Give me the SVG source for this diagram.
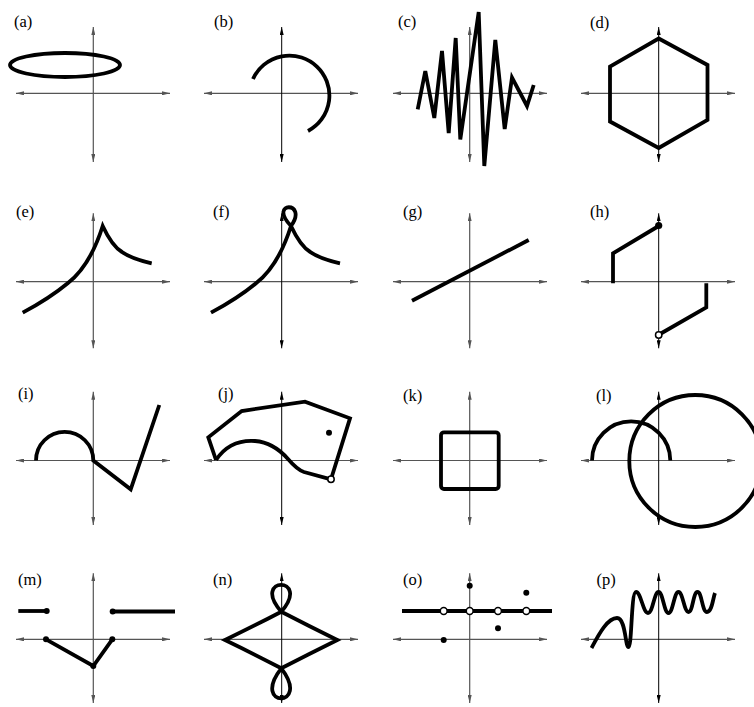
<svg xmlns="http://www.w3.org/2000/svg" width="754" height="707" viewBox="0 0 754 707">
<defs>
<marker id="ag" viewBox="0 0 8 4" refX="8" refY="2" markerWidth="8" markerHeight="4" markerUnits="userSpaceOnUse" orient="auto-start-reverse"><path d="M0,0 L8,2 L0,4 z" fill="#555"/></marker>
<marker id="ak" viewBox="0 0 8 4" refX="8" refY="2" markerWidth="8" markerHeight="4" markerUnits="userSpaceOnUse" orient="auto-start-reverse"><path d="M0,0 L8,2 L0,4 z" fill="#000"/></marker>
</defs>
<style>
.ax{stroke:#555;stroke-width:1.2;fill:none;marker-start:url(#ag);marker-end:url(#ag)}
.axk{stroke:#000;stroke-width:1;fill:none;marker-start:url(#ak);marker-end:url(#ak)}
.c{stroke:#000;stroke-width:3.8;fill:none;stroke-linejoin:miter}
.lbl{font-family:'Liberation Serif','Times New Roman',serif;font-size:16.5px;fill:#000}
.dot{fill:#000}
.od{fill:#fff;stroke:#000;stroke-width:1.5}
</style>
<rect width="754" height="707" fill="#fff"/>

<g id="panel-a">
<text class="lbl" font-family="Liberation Serif, serif" x="14" y="26.5">(a)</text>
<line class="ax" x1="16" y1="93.3" x2="170" y2="93.3"/>
<line class="ax" x1="93.3" y1="27" x2="93.3" y2="162"/>
<ellipse class="c" cx="65" cy="65" rx="55" ry="12"/>
</g>

<g id="panel-b">
<text class="lbl" font-family="Liberation Serif, serif" x="214" y="26.5">(b)</text>
<line class="ax" x1="204" y1="93.3" x2="358" y2="93.3"/>
<line class="axk" x1="281.7" y1="27" x2="281.7" y2="162"/>
<path class="c" d="M253,79 A40,40 0 1 1 308,131"/>
</g>

<g id="panel-c">
<text class="lbl" font-family="Liberation Serif, serif" x="398" y="27">(c)</text>
<line class="ax" x1="393" y1="93.3" x2="547" y2="93.3"/>
<line class="ax" x1="469.7" y1="27" x2="469.7" y2="162"/>
<path class="c" d="M417.7,109.3 L425.3,71 L434.3,118 L442,51 L448.7,133 L455.7,38 L460.3,139.5 L478.7,12 L484.3,166 L495.3,40 L504.7,129 L512,77.5 L527,106 L533.7,85"/>
</g>

<g id="panel-d">
<text class="lbl" font-family="Liberation Serif, serif" x="590" y="27.5">(d)</text>
<line class="ax" x1="581" y1="93.3" x2="735" y2="93.3"/>
<line class="axk" x1="658.7" y1="27" x2="658.7" y2="162"/>
<path class="c" d="M658.7,38.5 L707.5,65 L707.5,120 L658.7,148 L610,121.5 L610,66.5 Z"/>
</g>

<g id="panel-e">
<text class="lbl" font-family="Liberation Serif, serif" x="16" y="216.5">(e)</text>
<line class="ax" x1="16" y1="281.7" x2="170" y2="281.7"/>
<line class="ax" x1="93.3" y1="213.3" x2="93.3" y2="348.3"/>
<path class="c" d="M22.7,312.7 Q50,298 68,283 Q90,266 102.7,226 Q112,246 122,252 Q132,259 151.7,263.3"/>
</g>

<g id="panel-f">
<text class="lbl" font-family="Liberation Serif, serif" x="213" y="216.5">(f)</text>
<line class="ax" x1="204" y1="281.7" x2="358" y2="281.7"/>
<line class="axk" x1="281.7" y1="213.3" x2="281.7" y2="348.3"/>
<path class="c" d="M211,312.7 Q238.3,298 256.3,283 Q278.3,266 291,226 C309,201 267,201 291,226 Q300.3,246 310.3,252 Q320.3,259 340,263.3"/>
</g>

<g id="panel-g">
<text class="lbl" font-family="Liberation Serif, serif" x="403" y="217">(g)</text>
<line class="ax" x1="393" y1="281.7" x2="547" y2="281.7"/>
<line class="ax" x1="469.7" y1="213.3" x2="469.7" y2="348.3"/>
<path class="c" d="M412,300.7 L528.7,240"/>
</g>

<g id="panel-h">
<text class="lbl" font-family="Liberation Serif, serif" x="590" y="216.5">(h)</text>
<line class="ax" x1="581" y1="281.7" x2="735" y2="281.7"/>
<line class="axk" x1="658.7" y1="213.3" x2="658.7" y2="348.3"/>
<path class="c" d="M613,283.3 L613,253.3 L658.7,226"/>
<path class="c" d="M706.3,283.3 L706.3,307.3 L660,334"/>
<circle class="dot" cx="658.7" cy="225.5" r="3.6"/>
<circle class="od" cx="658.7" cy="335" r="3.2"/>
</g>

<g id="panel-i">
<text class="lbl" font-family="Liberation Serif, serif" x="18" y="399">(i)</text>
<line class="ax" x1="16" y1="460.5" x2="170" y2="460.5"/>
<line class="ax" x1="93.3" y1="391.7" x2="93.3" y2="525"/>
<path class="c" d="M36,460.5 A28.65,28.65 0 0 1 93.3,460.5 L130.7,489.3 L159.3,405"/>
</g>

<g id="panel-j">
<text class="lbl" font-family="Liberation Serif, serif" x="218" y="399">(j)</text>
<line class="ax" x1="204" y1="460.5" x2="358" y2="460.5"/>
<line class="axk" x1="281.7" y1="391.7" x2="281.7" y2="525"/>
<path class="c" d="M216,460 L208.3,437.3 L241.7,411 L305,401.7 L350,418.3 L331,479.3"/>
<path class="c" d="M216,460 C226,445 240,440 255,441 C270,442 280,450 288,459 C294,466 298,470 304,472 L331,479.3"/>
<circle class="dot" cx="329" cy="432.7" r="3"/>
<circle class="od" cx="331" cy="479.3" r="3.2"/>
</g>

<g id="panel-k">
<text class="lbl" font-family="Liberation Serif, serif" x="403" y="400.5">(k)</text>
<line class="ax" x1="393" y1="460.5" x2="547" y2="460.5"/>
<line class="ax" x1="469.7" y1="391.7" x2="469.7" y2="525"/>
<rect class="c" x="441" y="432.3" width="57.7" height="56.7" rx="3"/>
</g>

<g id="panel-l">
<text class="lbl" font-family="Liberation Serif, serif" x="596" y="400.5">(l)</text>
<line class="ax" x1="581" y1="460.5" x2="735" y2="460.5"/>
<line class="axk" x1="658.7" y1="391.7" x2="658.7" y2="525"/>
<path class="c" d="M592,460.5 A39.15,39.15 0 0 1 670.3,460.5"/>
<circle class="c" cx="695.3" cy="461" r="66"/>
</g>

<g id="panel-m">
<text class="lbl" font-family="Liberation Serif, serif" x="18" y="584.5">(m)</text>
<line class="ax" x1="16" y1="639.3" x2="170" y2="639.3"/>
<line class="ax" x1="93.3" y1="573.3" x2="93.3" y2="703"/>
<path class="c" d="M18.3,611 L46.7,611"/>
<path class="c" d="M112.7,611.5 L175,611.5"/>
<path class="c" d="M46,639.3 L93.3,666 L112.3,639.3"/>
<circle class="dot" cx="46.7" cy="611" r="3"/>
<circle class="dot" cx="112.7" cy="611.5" r="3"/>
<circle class="dot" cx="46" cy="639.3" r="3"/>
<circle class="dot" cx="93.3" cy="666" r="3"/>
<circle class="dot" cx="112.3" cy="639.3" r="3"/>
</g>

<g id="panel-n">
<text class="lbl" font-family="Liberation Serif, serif" x="213" y="584.5">(n)</text>
<line class="ax" x1="204" y1="639.3" x2="358" y2="639.3"/>
<line class="axk" x1="281.7" y1="573.3" x2="281.7" y2="703"/>
<path class="c" d="M225,640 Q254,626 281.3,611.7 C312,576 250,576 281.3,611.7 Q309,626 337.3,640 Q309,654 281.3,668.3 C250,708.3 312,708.3 281.3,668.3 Q254,654 225,640 Z"/>
</g>

<g id="panel-o">
<text class="lbl" font-family="Liberation Serif, serif" x="403" y="585">(o)</text>
<line class="ax" x1="393" y1="639.3" x2="547" y2="639.3"/>
<line class="ax" x1="469.7" y1="573.3" x2="469.7" y2="703"/>
<path class="c" d="M402,611 L552,611"/>
<circle class="od" cx="443.7" cy="611" r="3.4"/>
<circle class="od" cx="469.7" cy="611" r="3.4"/>
<circle class="od" cx="498" cy="611" r="3.4"/>
<circle class="od" cx="526.3" cy="611" r="3.4"/>
<circle class="dot" cx="469.7" cy="585.7" r="3"/>
<circle class="dot" cx="443.7" cy="640" r="3"/>
<circle class="dot" cx="498" cy="628.3" r="3"/>
<circle class="dot" cx="526.3" cy="592.7" r="3"/>
</g>

<g id="panel-p">
<text class="lbl" font-family="Liberation Serif, serif" x="596.5" y="585">(p)</text>
<line class="ax" x1="581" y1="639.3" x2="735" y2="639.3"/>
<line class="axk" x1="658.7" y1="573.3" x2="658.7" y2="703"/>
<path class="c" stroke-linejoin="round" d="M591.5,648 C598,636 607,618 617,618 C626,618 625,647 628.5,647 C632,647 631,592 636,592 C641,592 643,613 648,613 C653,613 654,592 658.5,592 C663,592 664,613 668.5,613 C673,613 674,592 678.5,592 C683,592 684,612 688.5,612 C693,612 693,592 697.5,592 C702,592 702,612 707,612 C712,612 713,598 715,593"/>
</g>
</svg>
